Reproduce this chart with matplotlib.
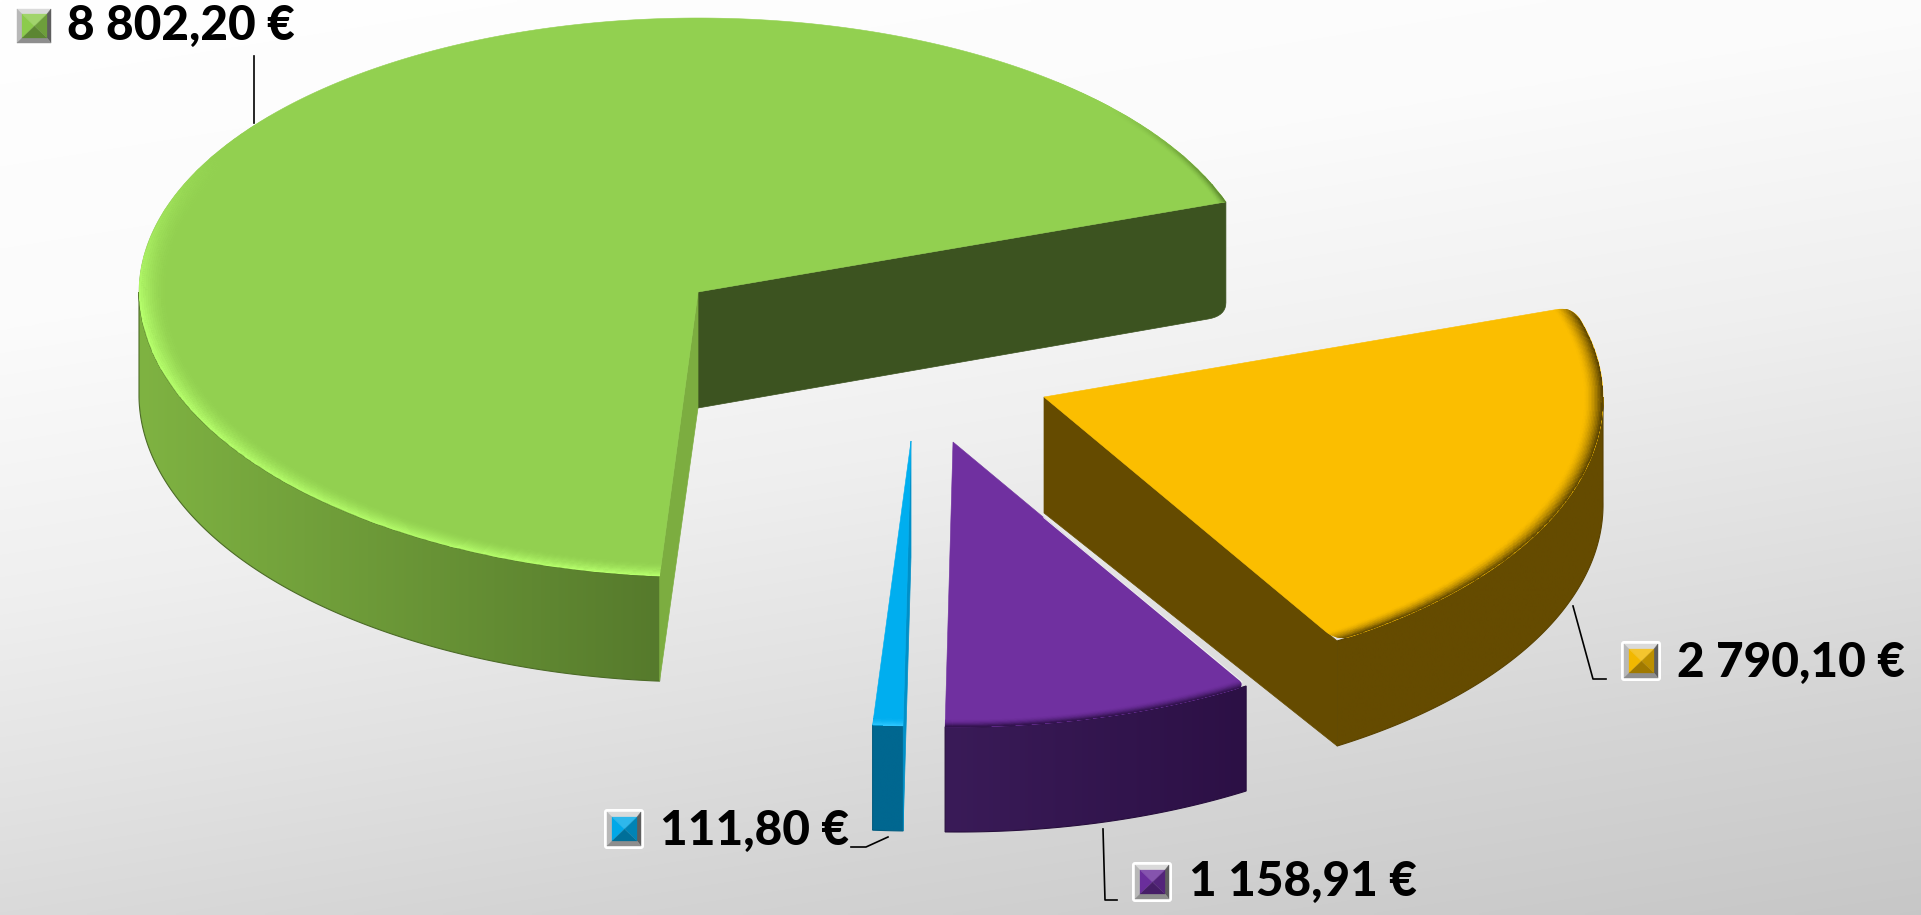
import numpy as np
import matplotlib
matplotlib.use("Agg")
import matplotlib.pyplot as plt
from matplotlib.colors import to_rgb
from matplotlib.patches import Polygon, FancyBboxPatch

# values of the slices, in the order they go round the pie
values = [8802.20, 2790.10, 1158.91, 111.80]
top_colors = ["#92D050", "#FBBE00", "#7030A0", "#00AEEF"]
key_colors = ["#8CCB4C", "#F2B800", "#6A2E9C", "#00A8E8"]

W, H = 1921, 915
RX, RY_UP, RY_DOWN = 559, 274, 285
DEPTH_RIM, DEPTH_MID = 105, 116
START = 19.2
SKEW = 5

centers = [(698, 292), (1044, 397), (953, 442), (911, 441)]
label_pos = [(67, 26), (1677, 663), (1189, 882), (660, 831)]
key_pos = [(14, 6), (1621, 641), (1132, 862), (604, 809)]
leaders = [[(254, 56), (254, 123)],
           [(1573, 606), (1593, 679), (1606, 679)],
           [(1103, 829), (1105, 900), (1117, 900)],
           [(888, 837), (866, 847), (851, 847)]]


def mix(c1, c2, f):
    a, b = np.array(to_rgb(c1)), np.array(to_rgb(c2))
    return a + (b - a) * f


def rim(c, t, s=1.0):
    t = np.radians(t)
    sn = np.sin(t)
    ry = np.where(sn > 0, RY_UP, RY_DOWN)
    # the front of the pie sits a little to the right (perspective)
    return c[0] + s * (RX * np.cos(t) + SKEW * np.clip(-sn, 0, 1)), c[1] - s * ry * sn


def rounded(pts, i, r):
    # swap the corner i of a closed outline for a small curve
    n = len(pts)
    a = i
    while np.hypot(*(pts[a % n] - pts[i])) < r:
        a -= 1
    b = i
    while np.hypot(*(pts[b % n] - pts[i])) < r:
        b += 1
    p0, p2 = pts[a % n], pts[b % n]
    u = np.linspace(0, 1, 10)[:, None]
    curve = (1 - u) ** 2 * p0 + 2 * u * (1 - u) * pts[i] + u ** 2 * p2
    keep = [pts[k % n] for k in range(b + 1, a + n)]
    return np.vstack([curve, np.array(keep)])


def gradient_fill(ax, pts, c_left, c_right, z):
    patch = Polygon(pts, closed=True, fc="none", ec="none", zorder=z)
    ax.add_patch(patch)
    x0, x1 = pts[:, 0].min(), pts[:, 0].max()
    y0, y1 = pts[:, 1].min(), pts[:, 1].max()
    row = np.array([mix(c_left, c_right, f) for f in np.linspace(0, 1, 256)])
    im = ax.imshow(row[None, :, :], extent=(x0, x1, y1, y0), aspect="auto", zorder=z,
                   interpolation="bilinear")
    im.set_clip_path(patch)
    ax.add_patch(Polygon(pts, closed=True, fc="none", ec=mix(c_right, "#000000", 0.12), lw=0.8, zorder=z))


def side(ax, c, t0, t1, c_left, c_right, z):
    ts = np.linspace(t0, t1, 200)
    x, y = rim(c, ts)
    pts = np.vstack([np.c_[x, y], np.c_[x[::-1], y[::-1] + DEPTH_RIM]])
    gradient_fill(ax, pts, c_left, c_right, z)


def face(ax, c, t, color, z, corner=0):
    x, y = rim(c, t)
    extra = 9 if corner else 0
    pts = np.array([[c[0], c[1]], [x, y], [x, y + DEPTH_RIM + extra], [c[0], c[1] + DEPTH_MID]], dtype=float)
    if corner:
        # lots of small steps so the rounding has points to walk along
        fine = []
        for k in range(4):
            for f in np.linspace(0, 1, 60, endpoint=False):
                fine.append(pts[k] + (pts[(k + 1) % 4] - pts[k]) * f)
        pts = rounded(np.array(fine), 120, corner)
    ax.add_patch(Polygon(pts, closed=True, fc=color, ec=color, lw=0.5, zorder=z))


def top(ax, c, t0, t1, color, z, round_r=14, both=True):
    ts = np.linspace(t0, t1, 400)
    x, y = rim(c, ts)
    arc = np.c_[x, y]
    ctr = np.array(c, dtype=float)
    f = np.linspace(0, 1, 200, endpoint=False)[:, None]
    pts = np.vstack([ctr + (arc[0] - ctr) * f, arc, (arc[-1] + (ctr - arc[-1]) * f)[1:]])
    if round_r:
        for end in ((arc[-1], arc[0]) if both else (arc[-1],)):
            pts = rounded(pts, int(np.argmin(np.hypot(*(pts - end).T))), round_r)
    patch = Polygon(pts, closed=True, fc=color, ec=color, lw=0.4, zorder=z)
    ax.add_patch(patch)
    return patch


def band(ax, c, t0, t1, base, edge, weight, width, z, clip):
    # soft bevel along the rim of the top surface
    ts = np.linspace(t0, t1, 300)
    ss = np.linspace(1 - width, 1, 14)
    X = np.array([rim(c, ts, s)[0] for s in ss])
    Y = np.array([rim(c, ts, s)[1] for s in ss])
    tm = (ts[:-1] + ts[1:]) / 2
    sm = np.linspace(0, 1, len(ss) - 1)
    w = weight(tm)
    C = np.zeros((len(sm), len(tm), 3))
    for i, f in enumerate(sm):
        for j in range(len(tm)):
            C[i, j] = mix(base, edge, (f ** 1.6) * w[j])
    m = ax.pcolormesh(X, Y, C, shading="flat", zorder=z, edgecolors="face", linewidth=0.2, antialiased=True)
    m.set_clip_path(clip)


def draw_key(ax, x, y, base, size=40):
    ax.add_patch(FancyBboxPatch((x + 2, y + 2), size - 4, size - 4, boxstyle="round,pad=2,rounding_size=3",
                                fc="white", ec="none", zorder=20))
    x0, y0, x1, y1 = x + 3, y + 3, x + size - 3, y + size - 3
    a0, b0, a1, b1 = x + 8, y + 8, x + size - 7, y + size - 8
    frame = [([(x0, y0), (x1, y0), (a1, b0), (a0, b0)], "#DADADA"),
             ([(x0, y0), (a0, b0), (a0, b1), (x0, y1)], "#B8B8B8"),
             ([(x1, y0), (x1, y1), (a1, b1), (a1, b0)], "#5E5E5E"),
             ([(x0, y1), (a0, b1), (a1, b1), (x1, y1)], "#8E8E8E")]
    for p, col in frame:
        ax.add_patch(Polygon(p, closed=True, fc=col, ec=col, lw=0.3, zorder=21))
    mx, my = (a0 + a1) / 2, (b0 + b1) / 2
    tri = [([(a0, b0), (a1, b0), (mx, my)], mix(base, "#FFFFFF", 0.18)),
           ([(a0, b0), (a0, b1), (mx, my)], base),
           ([(a1, b0), (a1, b1), (mx, my)], mix(base, "#000000", 0.22)),
           ([(a0, b1), (a1, b1), (mx, my)], mix(base, "#000000", 0.34))]
    for p, col in tri:
        ax.add_patch(Polygon(p, closed=True, fc=col, ec=col, lw=0.2, zorder=22))


plt.rcParams["font.family"] = ["Lato", "DejaVu Sans"]
fig = plt.figure(figsize=(W / 100, H / 100), dpi=100)
ax = fig.add_axes([0, 0, 1, 1])

# background
yy, xx = np.mgrid[0:H:229j, 0:W:481j]
tt = yy + 0.16 * xx
shade = np.interp(tt, [0, 330, 600, 800, 1000, 1270], [255, 251, 239, 226, 212, 196]) / 255
ax.imshow(np.dstack([shade, shade, shade]), extent=(0, W, H, 0), aspect="auto", zorder=0, interpolation="bilinear")

# slice angles from the values
sweep = np.array(values) / sum(values) * 360
g0, g1 = START, START + sweep[0]
o1 = START
o0 = o1 - sweep[1]
p1 = o0
p0 = p1 - sweep[2]
b1 = p0
b0 = b1 - sweep[3]

# green
c = centers[0]
side(ax, c, 180, g1, "#7FB342", "#567A2C", 2)
face(ax, c, g0, "#3C5320", 3, corner=13)
face(ax, c, g1, "#7CAD40", 3)
clip = top(ax, c, g0, g1, top_colors[0], 4, round_r=0)
band(ax, c, 140, g1, top_colors[0], "#B6FF6C",
     lambda t: np.clip((t - 150) / 35, 0, 1), 0.05, 5, clip)
band(ax, c, g0, 50, top_colors[0], "#5E8A30",
     lambda t: np.clip((42 - t) / 22, 0, 1), 0.015, 5, clip)

# orange
c = centers[1]
side(ax, c, o0, 0, "#654B00", "#654B00", 6)
face(ax, c, o0, "#654B00", 7)
clip = top(ax, c, o0, o1, top_colors[1], 8)
band(ax, c, o0, o1, top_colors[1], "#5E4600", lambda t: np.ones_like(t), 0.035, 9, clip)

# blue
c = centers[3]
side(ax, c, b0, b1, "#006790", "#006790", 10)
face(ax, c, b1, "#0090C8", 11)
clip = top(ax, c, b0, b1, top_colors[3], 12, round_r=0)
band(ax, c, b0, b1, top_colors[3], "#2CC6FF", lambda t: np.ones_like(t), 0.03, 13, clip)

# purple
c = centers[2]
side(ax, c, p0, p1, "#3A1B58", "#2C1045", 10)
clip = top(ax, c, p0, p1, top_colors[2], 12, round_r=10, both=False)
band(ax, c, p0, p1, top_colors[2], "#33134F", lambda t: np.ones_like(t), 0.025, 13, clip)
ex, ey = rim(c, p1)
ax.plot([c[0] + 0.31 * (ex - c[0]), ex - 4], [c[1] + 0.31 * (ey - c[1]), ey - 4], color="#F2F2F2", lw=0.7, zorder=14)

# leader lines, keys, labels
for line in leaders:
    ax.plot([p[0] for p in line], [p[1] for p in line], color="black", lw=1.2, zorder=19)

for v, base, kp, lp in zip(values, key_colors, key_pos, label_pos):
    draw_key(ax, kp[0], kp[1], base)
    txt = f"{v:,.2f}".replace(",", " ").replace(".", ",") + " €"
    ax.text(lp[0], lp[1], txt, fontsize=34.4, fontweight=900, color="black", ha="left", va="center", zorder=23)

ax.set_xlim(0, W)
ax.set_ylim(H, 0)
ax.axis("off")
fig.savefig("out.png", dpi=100)
